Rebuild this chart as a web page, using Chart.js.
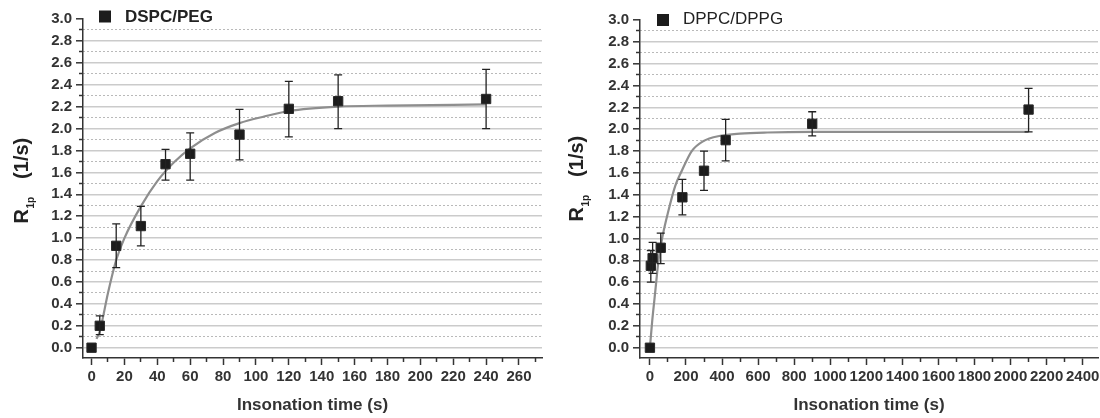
<!DOCTYPE html>
<html>
<head>
<meta charset="utf-8">
<title>R1p vs insonation time</title>
<script src="https://cdn.jsdelivr.net/npm/chart.js@4.4.1/dist/chart.umd.min.js"></script>
<style>
  html, body { margin: 0; padding: 0; background: #fff; overflow: hidden; width: 1100px; height: 418px; }
  .panel { position: absolute; top: 0; height: 418px; }
  #left { left: 0; width: 557px; }
  #right { left: 557px; width: 550px; }
</style>
</head>
<body>
<div class="panel" id="left"><canvas id="chartA" width="557" height="418"></canvas></div>
<div class="panel" id="right"><canvas id="chartB" width="550" height="418"></canvas></div>
<script>
// DSPC/PEG (left panel)
const timeA = [0, 5, 15, 30, 45, 60, 90, 120, 150, 240];
const r1pA = [0, 0.20, 0.93, 1.11, 1.675, 1.77, 1.945, 2.18, 2.25, 2.27];
const errUpA = [0, 0.09, 0.20, 0.18, 0.135, 0.19, 0.23, 0.25, 0.24, 0.27];
const errDownA = [0, 0.08, 0.20, 0.18, 0.145, 0.24, 0.23, 0.255, 0.25, 0.27];
const fitTimeA = [3, 5, 10, 15, 20, 30, 40, 50, 60, 75, 90, 105, 120, 150, 180, 240];
const fitR1pA = [0.08, 0.15, 0.50, 0.80, 1.0, 1.29, 1.52, 1.69, 1.82, 1.96, 2.05, 2.11, 2.16, 2.20, 2.21, 2.22];

// DPPC/DPPG (right panel)
const timeB = [0, 5, 15, 60, 180, 300, 420, 900, 2100];
const r1pB = [0, 0.75, 0.82, 0.915, 1.377, 1.62, 1.90, 2.05, 2.18];
const errUpB = [0, 0.14, 0.145, 0.135, 0.165, 0.18, 0.19, 0.11, 0.195];
const errDownB = [0, 0.15, 0.14, 0.145, 0.16, 0.18, 0.19, 0.11, 0.205];
const fitTimeB = [0, 13, 30, 47, 70, 102, 140, 177, 232, 295, 390, 500, 650, 900, 2100];
const fitR1pB = [0, 0.25, 0.52, 0.79, 1.02, 1.25, 1.48, 1.62, 1.80, 1.89, 1.94, 1.96, 1.97, 1.975, 1.975];

// tick values
const yTicks = [0, 0.2, 0.4, 0.6, 0.8, 1.0, 1.2, 1.4, 1.6, 1.8, 2.0, 2.2, 2.4, 2.6, 2.8, 3.0];
const yMinorTicks = [0.1, 0.3, 0.5, 0.7, 0.9, 1.1, 1.3, 1.5, 1.7, 1.9, 2.1, 2.3, 2.5, 2.7, 2.9];
const xTicksA = [0, 20, 40, 60, 80, 100, 120, 140, 160, 180, 200, 220, 240, 260];
const xMinorTicksA = [10, 30, 50, 70, 90, 110, 130, 150, 170, 190, 210, 230, 250, 270];
const xTicksB = [0, 200, 400, 600, 800, 1000, 1200, 1400, 1600, 1800, 2000, 2200, 2400];
const xMinorTicksB = [100, 300, 500, 700, 900, 1100, 1300, 1500, 1700, 1900, 2100, 2300];

const FONT = '"Liberation Sans", Arial, sans-serif';
const INK = '#333';

// error bars drawn from the point dataset through the chart scales
const errorBars = {
  id: 'errorBars',
  afterDatasetsDraw(chart, args, opts) {
    const ctx = chart.ctx;
    const xs = chart.scales.x, ys = chart.scales.y;
    ctx.save();
    ctx.strokeStyle = '#222';
    ctx.lineWidth = 1.3;
    opts.x.forEach((t, i) => {
      if (!opts.up[i] && !opts.down[i]) return;
      const px = xs.getPixelForValue(t);
      const top = ys.getPixelForValue(opts.y[i] + opts.up[i]);
      const bot = ys.getPixelForValue(opts.y[i] - opts.down[i]);
      ctx.beginPath();
      ctx.moveTo(px, top); ctx.lineTo(px, bot);
      ctx.moveTo(px - 4, top); ctx.lineTo(px + 4, top);
      ctx.moveTo(px - 4, bot); ctx.lineTo(px + 4, bot);
      ctx.stroke();
    });
    ctx.restore();
  }
};

// rotated y title with subscript
const yTitle = {
  id: 'yTitle',
  afterDraw(chart, args, opts) {
    const ctx = chart.ctx, a = chart.chartArea;
    ctx.save();
    ctx.translate(a.left - opts.dx, a.bottom - opts.dy);
    ctx.rotate(-Math.PI / 2);
    ctx.fillStyle = '#222';
    ctx.textAlign = 'left';
    ctx.textBaseline = 'alphabetic';
    ctx.font = 'bold 20px ' + FONT;
    ctx.fillText('R', 0, 0);
    let w = ctx.measureText('R').width;
    ctx.font = 'bold 10px ' + FONT;
    ctx.fillText('1p', w + 0.5, 6);
    w += ctx.measureText('1p').width + 0.5;
    ctx.font = 'bold 20px ' + FONT;
    ctx.fillText('(1/s)', w + 18, 0);
    ctx.restore();
  }
};

// legend entry inside the top-left of the plot
const legendBox = {
  id: 'legendBox',
  afterDraw(chart, args, opts) {
    const ctx = chart.ctx, a = chart.chartArea;
    const ds = chart.data.datasets[0];
    ctx.save();
    ctx.fillStyle = ds.backgroundColor;
    ctx.fillRect(a.left + opts.sx - 6, a.top + opts.sy - 6, 12, 12);
    ctx.fillStyle = '#222';
    ctx.font = opts.weight + ' 17px ' + FONT;
    ctx.textBaseline = 'alphabetic';
    ctx.fillText(ds.label, a.left + opts.tx, a.top + opts.ty);
    ctx.restore();
  }
};

function makeChart(id, p) {
  const tickFont = { family: FONT, size: 15, weight: 'bold' };
  return new Chart(document.getElementById(id), {
    type: 'scatter',
    data: {
      datasets: [{
        label: p.label,
        data: p.time.map((t, i) => ({ x: t, y: p.r1p[i] })),
        showLine: false,
        pointStyle: 'rect',
        pointRadius: 6.6,
        backgroundColor: '#1c1c1c',
        borderColor: '#2a2a2a',
        borderWidth: 1,
        order: 0
      }, {
        label: 'fit',
        data: p.fitTime.map((t, i) => ({ x: t, y: p.fitR1p[i] })),
        showLine: true,
        pointRadius: 0,
        borderColor: '#8e8e8e',
        borderWidth: 2.2,
        cubicInterpolationMode: 'monotone',
        order: 1
      }]
    },
    options: {
      responsive: false,
      animation: false,
      devicePixelRatio: 1,
      layout: { padding: { left: 0, top: p.padTop, right: p.padRight, bottom: 0 } },
      plugins: {
        legend: { display: false },
        tooltip: { enabled: false },
        errorBars: { x: p.time, y: p.r1p, up: p.errUp, down: p.errDown },
        yTitle: p.yTitle,
        legendBox: p.legend
      },
      scales: {
        x: {
          type: 'linear', position: 'bottom', weight: 1,
          min: p.xMin, max: p.xMax,
          afterBuildTicks: s => { s.ticks = p.xTicks.map(v => ({ value: v })); },
          afterFit: s => { s.height = 60; },
          grid: { drawOnChartArea: false, tickLength: 7, tickColor: INK, tickWidth: 1.5 },
          border: { display: true, color: INK, width: 1.5 },
          ticks: { color: INK, font: tickFont, padding: 3, maxRotation: 0, autoSkip: false, callback: v => String(v) },
          title: { display: true, text: 'Insonation time (s)', color: INK,
                   font: { family: FONT, size: 17, weight: 'bold' }, padding: { top: 0, bottom: 2 } }
        },
        xMinor: {
          type: 'linear', position: 'bottom', weight: 0,
          min: p.xMin, max: p.xMax,
          afterBuildTicks: s => { s.ticks = p.xMinor.map(v => ({ value: v })); },
          afterFit: s => { s.height = 0; },
          grid: { drawOnChartArea: false, tickLength: 4, tickColor: INK, tickWidth: 1.5 },
          border: { display: false },
          ticks: { display: false }
        },
        y: {
          type: 'linear', position: 'left', weight: 1,
          min: -0.094, max: 3.0,
          afterBuildTicks: s => { s.ticks = yTicks.map(v => ({ value: v })); },
          afterFit: s => { s.width = 83; },
          grid: {
            color: c => (c.tick && c.tick.value > 2.99) ? 'rgba(0,0,0,0)' : '#cbcbcb',
            lineWidth: 1.6, tickLength: 7, tickColor: INK, tickWidth: 1.5
          },
          border: { display: true, color: INK, width: 1.5 },
          ticks: { color: INK, font: tickFont, padding: 4, callback: v => Number(v).toFixed(1) }
        },
        yMinor: {
          type: 'linear', position: 'left', weight: 0,
          min: -0.094, max: 3.0,
          afterBuildTicks: s => { s.ticks = yMinorTicks.map(v => ({ value: v })); },
          afterFit: s => { s.width = 0; },
          grid: { color: '#b9b9b9', lineWidth: 1, tickLength: 4, tickColor: INK, tickWidth: 1.5 },
          border: { display: false, dash: [2, 2] },
          ticks: { display: false }
        }
      }
    },
    plugins: [errorBars, yTitle, legendBox]
  });
}

makeChart('chartA', {
  label: 'DSPC/PEG',
  time: timeA, r1p: r1pA, errUp: errUpA, errDown: errDownA,
  fitTime: fitTimeA, fitR1p: fitR1pA,
  xMin: -5.2, xMax: 274, xTicks: xTicksA, xMinor: xMinorTicksA,
  padTop: 19, padRight: 15,
  yTitle: { dx: 55, dy: 134.5 },
  legend: { sx: 22, sy: -2.5, tx: 42, ty: 3, weight: 'bold' }
});

makeChart('chartB', {
  label: 'DPPC/DPPG',
  time: timeB, r1p: r1pB, errUp: errUpB, errDown: errDownB,
  fitTime: fitTimeB, fitR1p: fitR1pB,
  xMin: -55, xMax: 2485, xTicks: xTicksB, xMinor: xMinorTicksB,
  padTop: 20, padRight: 9,
  yTitle: { dx: 57, dy: 136.5 },
  legend: { sx: 23, sy: 0, tx: 43, ty: 4, weight: 'normal' }
});
</script>
</body>
</html>
